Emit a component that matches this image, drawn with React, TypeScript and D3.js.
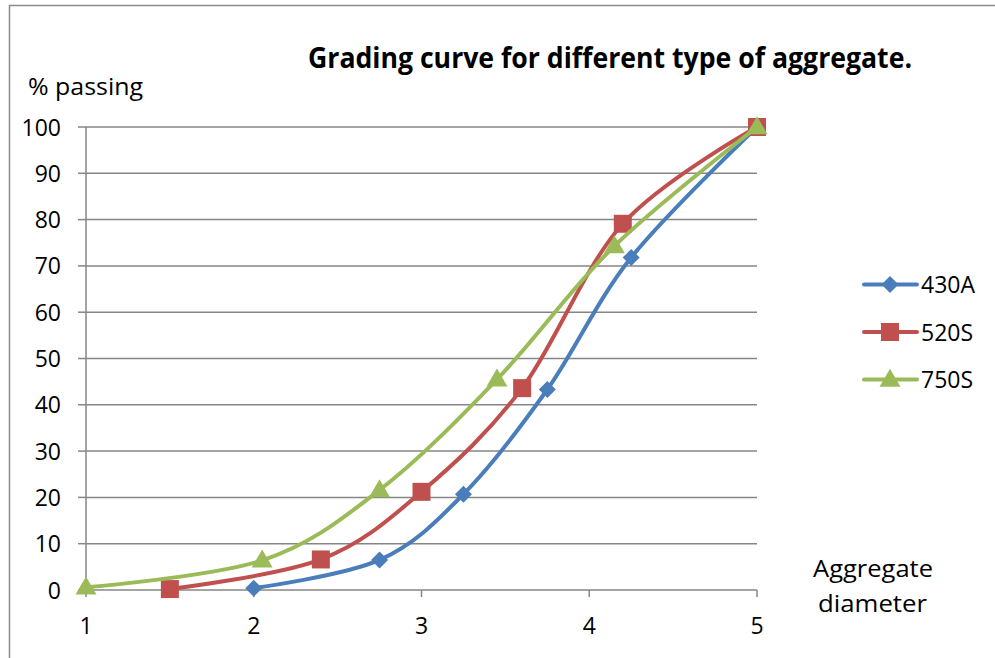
import React from "react";
import * as d3 from "d3";

const seriesNames = ["430A", "520S", "750S"];
const x430A = [2, 2.75, 3.25, 3.75, 4.25, 5];
const y430A = [0.4, 6.5, 20.7, 43.3, 71.8, 100];
const x520S = [1.5, 2.4, 3.0, 3.6, 4.2, 5];
const y520S = [0.2, 6.6, 21.2, 43.6, 79.1, 100];
const x750S = [1, 2.05, 2.75, 3.45, 4.15, 5];
const y750S = [0.6, 6.4, 21.6, 45.5, 74.3, 100];
const xTicks = [1, 2, 3, 4, 5];
const yTicks = [0, 10, 20, 30, 40, 50, 60, 70, 80, 90, 100];
const colors = ["#4A7EBB", "#C0504D", "#9BBB59"];
const titleText = "Grading curve for different type of aggregate.";

const W = 995, H = 658;
const FONT = "'Open Sans', 'Noto Sans', sans-serif";

function Marker({ kind, x, y, color }: { kind: number; x: number; y: number; color: string }) {
  if (kind === 0) {
    const s = 8.5;
    return <path d={`M${x},${y - s}L${x + s},${y}L${x},${y + s}L${x - s},${y}Z`} fill={color} />;
  }
  if (kind === 1) {
    const s = 9;
    return <rect x={x - s} y={y - s} width={2 * s} height={2 * s} fill={color} />;
  }
  const w = 10.5, h = 18;
  return <path d={`M${x},${y - h * 0.6}L${x + w},${y + h * 0.4}L${x - w},${y + h * 0.4}Z`} fill={color} />;
}

export default function App() {
  const x = d3.scaleLinear().domain([1, 5]).range([86, 757]);
  const y = d3.scaleLinear().domain([0, 100]).range([590, 127]);
  const series = [
    { name: seriesNames[0], xs: x430A, ys: y430A },
    { name: seriesNames[1], xs: x520S, ys: y520S },
    { name: seriesNames[2], xs: x750S, ys: y750S },
  ];
  const line = d3
    .line<[number, number]>()
    .x((d) => x(d[0]))
    .y((d) => y(d[1]))
    .curve(d3.curveCardinal.tension(0));
  const grid = "#868686";
  return (
    <svg width={W} height={H} style={{ position: "absolute", left: 0, top: 0 }} fontFamily={FONT}>
      <rect x={0} y={0} width={W} height={H} fill="#fff" />
      <rect x={9.5} y={5.5} width={W + 10} height={H + 10} fill="none" stroke="#8c8c8c" strokeWidth={1.5} />
      {yTicks.map((t) => (
        <g key={t}>
          {t > 0 && <line x1={86} x2={757} y1={y(t)} y2={y(t)} stroke={grid} strokeWidth={1.5} />}
          <line x1={78} x2={86} y1={y(t)} y2={y(t)} stroke={grid} strokeWidth={1.5} />
          <text x={61} y={y(t) + 8.5} textAnchor="end" fontSize={23} fill="#000">
            {t}
          </text>
        </g>
      ))}
      <line x1={86} x2={86} y1={127} y2={590} stroke={grid} strokeWidth={1.5} />
      <line x1={86} x2={757} y1={590} y2={590} stroke={grid} strokeWidth={1.5} />
      {xTicks.map((t) => (
        <g key={t}>
          <line x1={x(t)} x2={x(t)} y1={590} y2={597} stroke={grid} strokeWidth={1.5} />
          <text x={x(t)} y={634} textAnchor="middle" fontSize={23} fill="#000">
            {t}
          </text>
        </g>
      ))}
      {series.map((s, i) => {
        const pts = s.xs.map((v, j) => [v, s.ys[j]] as [number, number]);
        return (
          <g key={s.name}>
            <path d={line(pts) || ""} fill="none" stroke={colors[i]} strokeWidth={4} strokeLinecap="round" strokeLinejoin="round" />
            {pts.map((p, j) => (
              <Marker key={j} kind={i} x={x(p[0])} y={y(p[1])} color={colors[i]} />
            ))}
          </g>
        );
      })}
      <text x={308} y={68} fontSize={28} fontWeight="bold" fill="#000" textLength={604} lengthAdjust="spacingAndGlyphs">
        {titleText}
      </text>
      <text x={28} y={95} fontSize={24} fill="#000" textLength={115} lengthAdjust="spacingAndGlyphs">% passing</text>
      <text x={813} y={577} fontSize={24} fill="#000" textLength={120} lengthAdjust="spacingAndGlyphs">Aggregate</text>
      <text x={818} y={612} fontSize={24} fill="#000" textLength={109} lengthAdjust="spacingAndGlyphs">diameter</text>
      {series.map((s, i) => {
        const cy = 284.5 + i * 47.5;
        return (
          <g key={s.name}>
            <line x1={864} x2={917} y1={cy} y2={cy} stroke={colors[i]} strokeWidth={4} strokeLinecap="round" />
            <Marker kind={i} x={890} y={cy} color={colors[i]} />
            <text x={921} y={cy + 8.5} fontSize={23} fill="#000">
              {s.name}
            </text>
          </g>
        );
      })}
    </svg>
  );
}
